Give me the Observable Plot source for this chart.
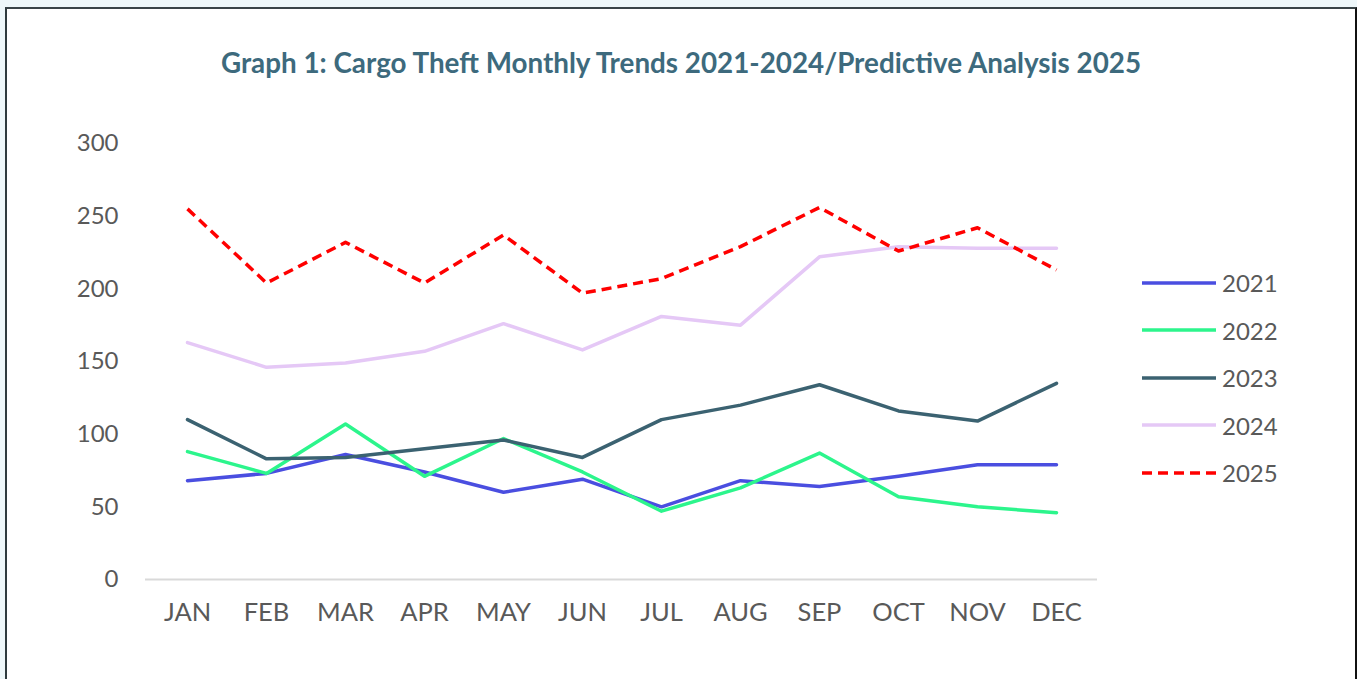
<!DOCTYPE html>
<html>
<head>
<meta charset="utf-8">
<script src="https://cdn.jsdelivr.net/npm/d3@7"></script>
<script src="https://cdn.jsdelivr.net/npm/@observablehq/plot@0.6"></script>
<style>
  html, body { margin: 0; padding: 0; }
  body { width: 1357px; height: 679px; overflow: hidden; background: #eef7fa; position: relative; font-family: Lato, "Open Sans", sans-serif; }
  #frame { position: absolute; left: 5px; top: 7px; width: 1348px; height: 700px; background: #fff; border-left: 2px solid #2f3a3e; border-top: 2px solid #3a4448; border-right: 2px solid #111; }
  #title { position: absolute; left: 0; width: 1362px; top: 46px; text-align: center; font-family: Lato, sans-serif; font-weight: 700; font-size: 27.8px; color: #3d6a7d; }
  #chart { position: absolute; left: 0; top: 100px; }
  #legend { position: absolute; left: 1142px; top: 259px; }
  .item { position: relative; height: 47.5px; display: flex; align-items: center; }
  .item svg { width: 74px; height: 8px; margin-right: 6px; }
  .item span { font-family: Lato, sans-serif; font-size: 24px; color: #595959; }
</style>
</head>
<body>
<div id="frame"></div>
<div id="title">Graph 1: Cargo Theft Monthly Trends 2021-2024/Predictive Analysis 2025</div>
<div id="chart"></div>
<div id="legend"></div>
<script>
const months = ["JAN","FEB","MAR","APR","MAY","JUN","JUL","AUG","SEP","OCT","NOV","DEC"];
const series = ["2021","2022","2023","2024","2025"];
const y2021 = [68, 73, 86, 74, 60, 69, 50, 68, 64, 71, 79, 79];
const y2022 = [88, 73, 107, 71, 97, 74, 47, 63, 87, 57, 50, 46];
const y2023 = [110, 83, 84, 90, 96, 84, 110, 120, 134, 116, 109, 135];
const y2024 = [163, 146, 149, 157, 176, 158, 181, 175, 222, 229, 228, 228];
const y2025 = [255, 204, 232, 204, 237, 197, 207, 229, 256, 226, 242, 213];
const yTicks = [0, 50, 100, 150, 200, 250, 300];
const colors = ["#4a4ee0", "#2cf58c", "#3b6271", "#e5c8f6", "#ff0000"];
const dashes = [null, null, null, null, "10,6"];

const values = [y2021, y2022, y2023, y2024, y2025];
const data = [];
series.forEach((s, i) => months.forEach((m, j) => data.push({series: s, month: m, value: values[i][j]})));

const chart = Plot.plot({
  width: 1357,
  height: 560,
  marginLeft: 145,
  marginRight: 260,
  marginTop: 43,
  marginBottom: 81,
  style: {fontFamily: "Lato, sans-serif", fontSize: "24px", color: "#595959", background: "transparent"},
  x: {type: "point", domain: months, padding: 0.5, label: null, tickSize: 0, tickPadding: 24},
  y: {domain: [0, 300], ticks: yTicks, label: null, tickSize: 0, tickPadding: 27},
  marks: [
    Plot.axisX({tickSize: 0, tickPadding: 23, fontSize: 25.5, fill: "#595959"}),
    Plot.axisY({ticks: yTicks, tickSize: 0, tickPadding: 27, fontSize: 24, fill: "#595959"}),
    Plot.ruleY([0], {stroke: "#d9d9d9", strokeWidth: 2}),
    ...series.map((s, i) => Plot.line(data.filter(d => d.series === s), {
      x: "month", y: "value", stroke: colors[i], strokeWidth: 3.5,
      strokeDasharray: dashes[i] || undefined, strokeLinejoin: "round", strokeLinecap: i === 4 ? "butt" : "round"
    }))
  ]
});
document.getElementById("chart").appendChild(chart);

const legend = document.getElementById("legend");
series.forEach((s, i) => {
  const div = document.createElement("div");
  div.className = "item";
  div.innerHTML = `<svg viewBox="0 0 74 8"><line x1="0" x2="74" y1="4" y2="4" stroke="${colors[i]}" stroke-width="3.5" ${dashes[i] ? `stroke-dasharray="${dashes[i]}"` : ""} stroke-linecap="${dashes[i] ? "butt" : "round"}"/></svg><span>${s}</span>`;
  legend.appendChild(div);
});
</script>
</body>
</html>
